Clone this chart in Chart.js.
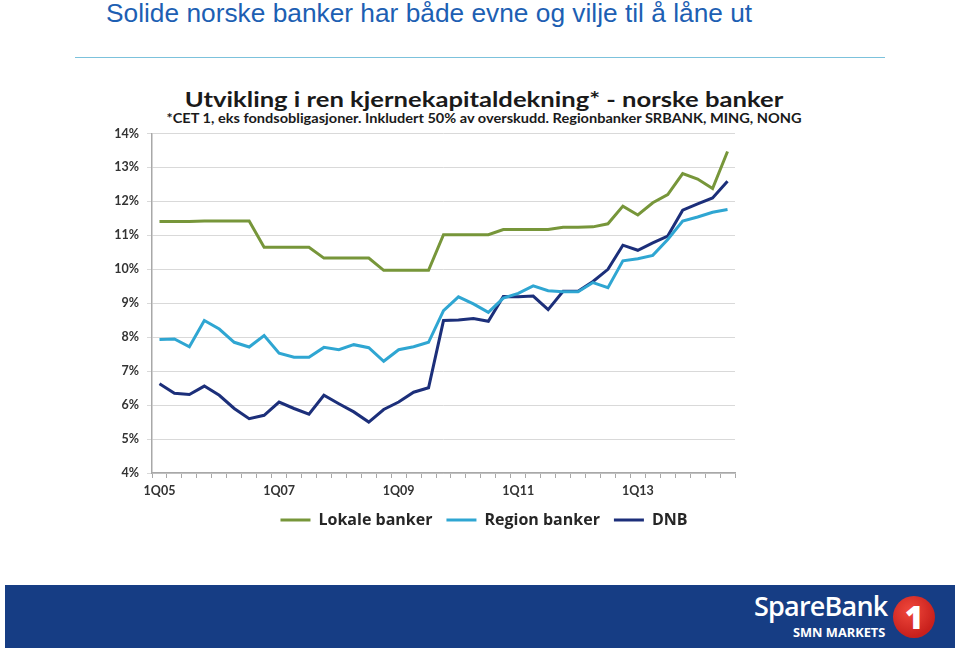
<!DOCTYPE html>
<html><head><meta charset="utf-8">
<script src="https://cdn.jsdelivr.net/npm/chart.js@4"></script>
<style>
html,body{margin:0;padding:0;background:#fff;width:959px;height:650px;overflow:hidden;position:relative;font-family:Lato,"Open Sans",sans-serif}
#pt{position:absolute;left:106px;top:-2px;font-family:"Liberation Sans",Arial,sans-serif;font-size:26.3px;color:#1d5fb3;white-space:nowrap}
#rule{position:absolute;left:75px;top:57px;width:810px;height:1px;background:#7cc2dc}
#ct{position:absolute;left:95px;width:778px;top:87px;text-align:center;font-weight:700;font-size:21px;line-height:24px;color:#1a1a1a;white-space:nowrap;transform:scaleX(1.22);transform-origin:389px 0}
#cs{position:absolute;left:95px;width:778px;top:110px;text-align:center;font-weight:700;font-size:13px;line-height:16px;color:#1a1a1a;white-space:nowrap;transform:scaleX(1.12);transform-origin:389px 0}
#wrap{position:absolute;left:95px;top:118px;width:778px;height:420px}
#foot{position:absolute;left:5px;top:585px;width:950px;height:63px;background:#163d84}
#sb{position:absolute;left:749px;top:2px;font-family:"Open Sans",sans-serif;font-weight:600;font-size:27px;color:#fff;letter-spacing:-0.8px;white-space:nowrap}
#smn{position:absolute;left:788px;top:38px;font-family:"Open Sans",sans-serif;font-weight:700;font-size:12.8px;color:#fff;white-space:nowrap}
#logo{position:absolute;left:888px;top:11px;width:42px;height:42px;border-radius:50%;background:radial-gradient(circle at 40% 35%,#f0483c,#c8201c 70%);color:#fff;font-family:"Open Sans",sans-serif;font-weight:800;font-size:32px;line-height:42px;text-align:center}
</style>
</head><body>
<div id="pt">Solide norske banker har både evne og vilje til å låne ut</div>
<div id="rule"></div>
<div id="ct">Utvikling i ren kjernekapitaldekning* - norske banker</div>
<div id="cs">*CET 1, eks fondsobligasjoner. Inkludert 50% av overskudd. Regionbanker SRBANK, MING, NONG</div>
<div id="wrap"><canvas id="c"></canvas></div>
<div id="foot">
  <div id="sb">SpareBank</div>
  <div id="smn">SMN MARKETS</div>
  <div id="logo">1</div>
</div>
<script>
const categories = ['1Q05','2Q05','3Q05','4Q05','1Q06','2Q06','3Q06','4Q06',
  '1Q07','2Q07','3Q07','4Q07','1Q08','2Q08','3Q08','4Q08',
  '1Q09','2Q09','3Q09','4Q09','1Q10','2Q10','3Q10','4Q10',
  '1Q11','2Q11','3Q11','4Q11','1Q12','2Q12','3Q12','4Q12',
  '1Q13','2Q13','3Q13','4Q13','1Q14','2Q14','3Q14'];
const lokaleBanker = [11.41,11.41,11.41,11.42,11.42,11.42,11.42,10.65,
  10.65,10.65,10.65,10.33,10.33,10.33,10.33,9.97,
  9.97,9.97,9.97,11.02,11.02,11.02,11.02,11.17,
  11.17,11.17,11.17,11.24,11.24,11.25,11.34,11.86,
  11.60,11.96,12.20,12.82,12.66,12.38,13.47];
const regionBanker = [7.93,7.95,7.72,8.49,8.24,7.85,7.71,8.05,
  7.53,7.41,7.41,7.70,7.63,7.78,7.69,7.29,
  7.63,7.72,7.85,8.78,9.19,8.98,8.73,9.15,
  9.29,9.51,9.37,9.34,9.34,9.61,9.46,10.25,
  10.31,10.41,10.88,11.42,11.54,11.68,11.76];
const dnb = [6.63,6.35,6.31,6.56,6.29,5.90,5.60,5.70,
  6.09,5.90,5.73,6.29,6.04,5.80,5.50,5.87,
  6.09,6.38,6.51,8.49,8.51,8.55,8.47,9.20,
  9.19,9.21,8.81,9.35,9.35,9.64,10.00,10.71,
  10.56,10.78,10.98,11.74,11.93,12.10,12.59];
const yMin = 4, yMax = 14, yStep = 1;
const labelEvery = 8;

new Chart(document.getElementById('c'), {
  type:'line',
  data:{
    labels:categories,
    datasets:[
      {label:'Lokale banker', data:lokaleBanker, borderColor:'#77963a', backgroundColor:'#77963a', borderWidth:3, pointRadius:0, tension:0},
      {label:'Region banker', data:regionBanker, borderColor:'#2fa6d2', backgroundColor:'#2fa6d2', borderWidth:3, pointRadius:0, tension:0},
      {label:'DNB', data:dnb, borderColor:'#1c2f7a', backgroundColor:'#1c2f7a', borderWidth:3, pointRadius:0, tension:0}
    ]
  },
  options:{
    responsive:true, maintainAspectRatio:false, animation:false,
    layout:{padding:{top:8,left:0,right:0,bottom:0}},
    plugins:{
      tooltip:{enabled:false},
      legend:{position:'bottom',
        labels:{usePointStyle:true, pointStyle:'line', pointStyleWidth:30, padding:14,
          color:'#262626', font:{family:'Open Sans', size:16, weight:'bold'}}}
    },
    scales:{
      x:{offset:true,
        grid:{offset:true, drawOnChartArea:false, drawTicks:true, tickLength:5, color:'#a8a8a8'},
        border:{color:'#a8a8a8', width:1.5},
        ticks:{autoSkip:false, maxRotation:0, padding:5, color:'#333', font:{family:'Lato', size:12.5, weight:'bold'},
          callback:function(v,i){ return i % labelEvery === 0 ? categories[i] : ''; }},
        afterFit:function(s){ s.height = 25; }
      },
      y:{min:yMin, max:yMax,
        grid:{color:'#d9d9d9', tickLength:5, drawTicks:true},
        border:{color:'#a8a8a8', width:1.5},
        ticks:{stepSize:yStep, padding:8, color:'#333', font:{family:'Lato', size:12.5, weight:'bold'}, callback:function(v){ return v + '%'; }},
        afterFit:function(s){ s.width = 57; }
      },
      yRight:{type:'linear', position:'right', display:true,
        grid:{display:false}, border:{display:false}, ticks:{display:false},
        afterFit:function(s){ s.width = 138; }
      }
    }
  }
});
</script>
</body></html>
